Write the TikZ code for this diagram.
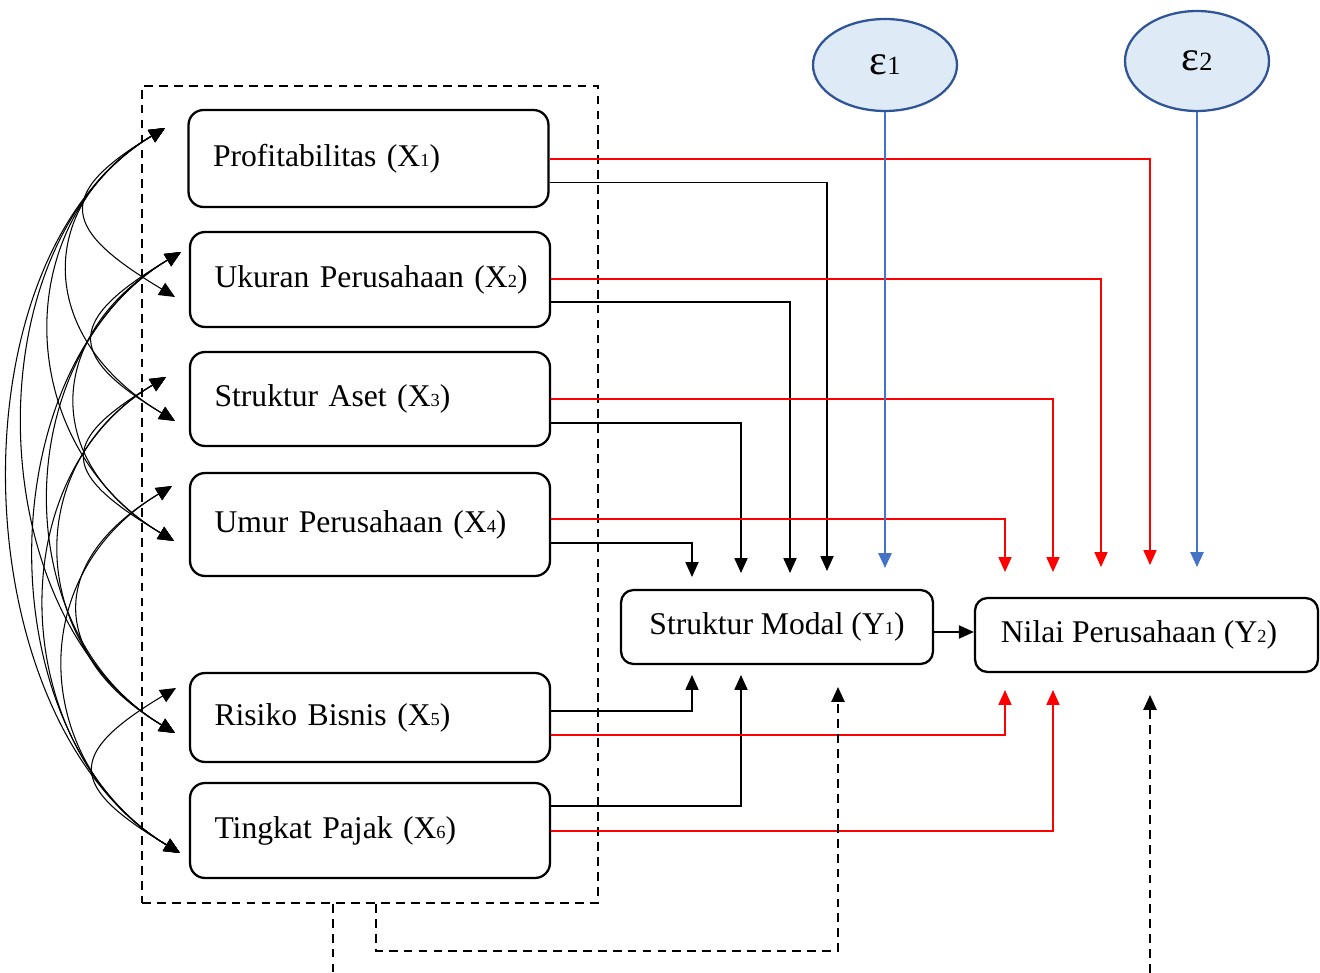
\documentclass[tikz,border=0pt]{standalone}
\usepackage{fontspec}
\setmainfont{Liberation Serif}
\usetikzlibrary{arrows.meta,shapes.geometric,calc}
\definecolor{errline}{HTML}{2F5597}
\definecolor{errfill}{HTML}{DEEBF7}
\definecolor{errarrow}{HTML}{4472C4}
\newcommand{\idx}[1]{{\fontsize{10.5}{10.5}\selectfont #1}}
\newcommand{\eps}[1]{\raisebox{-3pt}{{\fontsize{24}{24}\selectfont ε}{\fontsize{15}{15}\selectfont #1}}}
\tikzset{
  var/.style={draw,rounded corners=0.3cm,line width=1.3pt,minimum width=7.2cm,text width=6.5cm,
    inner xsep=0.35cm,align=left,font=\fontsize{18}{22}\selectfont,execute at begin node=\hspace*{0.14cm}},
  endo/.style={draw,rounded corners=0.25cm,line width=1.3pt,minimum height=1.48cm,align=center,
    inner sep=0pt,font=\fontsize{18}{22}\selectfont},
  err/.style={ellipse,draw=errline,fill=errfill,line width=1.3pt,minimum width=2.88cm,inner sep=0pt},
  grp/.style={draw,dashed,line width=1.1pt,dash pattern=on 5pt off 3.5pt,minimum width=9.12cm,minimum height=16.34cm},
  tip/.style={-{Triangle[length=8.5pt,width=7.5pt]}},
  blk/.style={tip,line width=0.7pt},
  redl/.style={tip,line width=0.6pt,red},
  bluel/.style={tip,line width=1.2pt,errarrow},
  dashl/.style={line width=1.1pt,dash pattern=on 5pt off 3.5pt},
  corr/.style={{Triangle[length=9pt,width=8pt]}-{Triangle[length=9pt,width=8pt]},line width=0.6pt}
}
\begin{document}
\begin{tikzpicture}[x=0.02cm,y=-0.02cm]
        \useasboundingbox (0,0) rectangle (1320,973);
        \node[grp] (grp) at (370,494.5) {};

        \node[var,minimum height=1.94cm] (X1) at (368.5,158.5) {Profitabilitas (X\idx{1})};
        \node[var,minimum height=1.9cm] (X2) at (370,279.5) {Ukuran Perusahaan (X\idx{2})};
        \node[var,minimum height=1.88cm] (X3) at (370,399) {Struktur Aset (X\idx{3})};
        \node[var,minimum height=2.06cm] (X4) at (370,524.5) {Umur Perusahaan (X\idx{4})};
        \node[var,minimum height=1.78cm] (X5) at (370,717.5) {Risiko Bisnis (X\idx{5})};
        \node[var,minimum height=1.9cm] (X6) at (370,830.5) {Tingkat Pajak (X\idx{6})};

        \node[endo,minimum width=6.24cm] (Y1) at (777,627) {Struktur Modal (Y\idx{1})};
        \node[endo,minimum width=6.86cm] (Y2) at (1146.5,635) {Nilai Perusahaan (Y\idx{2})\hspace*{0.3cm}};

        \node[err,minimum height=1.84cm] (e1) at (885,65) {\eps{1}};
        \node[err,minimum height=2cm] (e2) at (1197,61) {\eps{2}};

        \coordinate (m1) at (827,571);
        \coordinate (m2) at (790,573);
        \coordinate (m3) at (741,573);
        \coordinate (m4) at (692,577);
        \coordinate (m5) at (692,675);
        \coordinate (m6) at (741,675);
        \coordinate (r1) at (1150,565);
        \coordinate (r2) at (1101,567);
        \coordinate (r3) at (1053,572);
        \coordinate (r4) at (1005,572);
        \coordinate (r5) at (1005,690);
        \coordinate (r6) at (1053,690);
        \coordinate (b1) at (885,568);
        \coordinate (b2) at (1197,567);
        \coordinate (d1) at (838,687);
        \coordinate (d2) at (1150,695);
        \coordinate (d3) at (1150,973);

        \foreach \n/\dy/\t in {1/24/m1,2/22.5/m2,3/24/m3,4/18.5/m4,5/-6.5/m5,6/-24.5/m6}{
            \draw[blk] ($(X\n.east)+(0,\dy)$) -| (\t);
        }
        \foreach \n/\dy/\t in {1/0.5/r1,2/-0.5/r2,3/0/r3,4/-5.5/r4,5/17.5/r5,6/0.5/r6}{
            \draw[redl] ($(X\n.east)+(0,\dy)$) -| (\t);
        }
        \draw[bluel] (e1) -- (b1);
        \draw[bluel] (e2) -- (b2);
        \draw[blk] ($(Y1.east)+(0,5)$) -- ($(Y1.east -| Y2.west)+(0,5)$);

        \draw[dashl,tip] ($(grp.south)+(6,0)$) -- ++(0,47) -| (d1);
        \draw[dashl] ($(grp.south)+(-37,0)$) -- ++(0,72);
        \draw[dashl,tip] (d3) -- (d2);

        \coordinate (u1) at (165,128);
        \coordinate (u2) at (181,252);
        \coordinate (u3) at (166,377);
        \coordinate (u4) at (172,486);
        \coordinate (u5) at (176,688);
        \coordinate (l2) at (175,297);
        \coordinate (l3) at (175,421);
        \coordinate (l4) at (174,541);
        \coordinate (l5) at (175,733);
        \coordinate (l6) at (180,853);
        \foreach \a/\b/\k in {1/2/112,1/3/135,1/4/159,1/5/195,1/6/218,2/3/112,2/4/135,2/5/171,
            2/6/194,3/4/111,3/5/147,3/6/170,4/5/126,4/6/149,5/6/111}{
            \draw[corr] (u\a) .. controls +(-\k,0.6*\k) and +(-\k,-0.6*\k) .. (l\b);
        }
    \end{tikzpicture}
\end{document}
